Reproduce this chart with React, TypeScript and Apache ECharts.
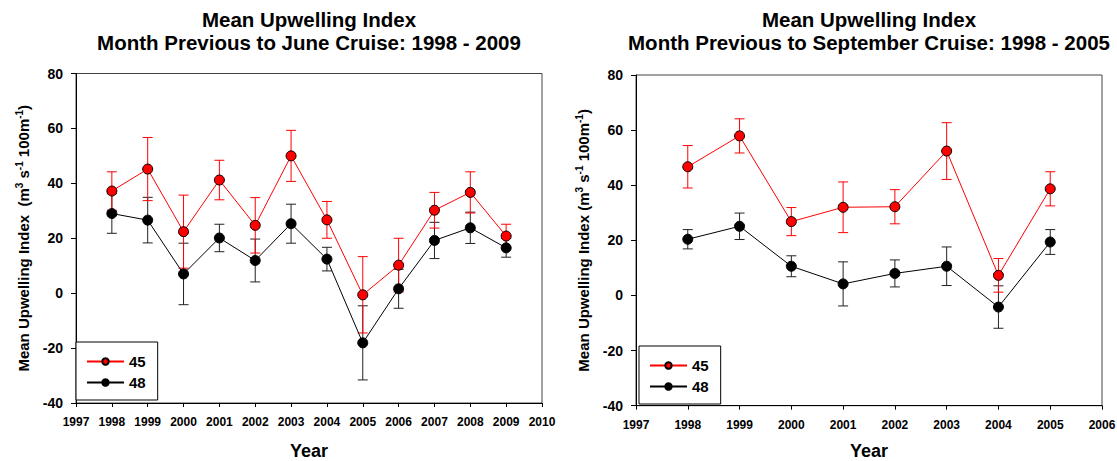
import React, { useEffect, useRef } from "react";
import * as echarts from "echarts";

const FONT = '"Liberation Sans", Arial, Helvetica, sans-serif';

const juneYears = [1998, 1999, 2000, 2001, 2002, 2003, 2004, 2005, 2006, 2007, 2008, 2009];
const june45 = [37.2, 45.2, 22.4, 41.2, 24.7, 50.0, 26.7, -0.6, 10.2, 30.2, 36.7, 20.8];
const june45Err = [7.0, 11.5, 13.3, 7.2, 10.1, 9.3, 6.7, 13.9, 9.8, 6.5, 7.5, 4.3];
const june48 = [29.0, 26.6, 7.0, 20.1, 11.9, 25.3, 12.4, -18.1, 1.6, 19.2, 23.8, 16.5];
const june48Err = [7.2, 8.3, 11.2, 5.0, 7.8, 7.1, 4.3, 13.5, 7.1, 6.6, 5.7, 3.4];

const sepYears = [1998, 1999, 2000, 2001, 2002, 2003, 2004, 2005];
const sep45 = [46.7, 57.9, 26.8, 32.0, 32.2, 52.4, 7.3, 38.7];
const sep45Err = [7.7, 6.2, 5.1, 9.2, 6.2, 10.3, 6.1, 6.2];
const sep48 = [20.4, 25.1, 10.6, 4.2, 8.0, 10.6, -4.2, 19.4];
const sep48Err = [3.5, 4.8, 3.8, 8.0, 4.9, 7.0, 7.7, 4.5];

const yTicks = { min: -40, max: 80, interval: 20 };
const juneX = { min: 1997, max: 2010, interval: 1 };
const sepX = { min: 1997, max: 2006, interval: 1 };

const titleJune = "Mean Upwelling Index\nMonth Previous to June Cruise: 1998 - 2009";
const titleSep = "Mean Upwelling Index\nMonth Previous to September Cruise: 1998 - 2005";

const RED = "#ff0000";
const BLACK = "#000000";

function errData(xs: number[], v: number[], e: number[]) {
  return xs.map((x, i) => [x, v[i] - e[i], v[i] + e[i]]);
}

function errSeries(name: string, idx: number, data: number[][], color: string) {
  return {
    type: "custom",
    name,
    xAxisIndex: idx,
    yAxisIndex: idx,
    z: 1,
    encode: { x: 0, y: [1, 2] },
    data,
    renderItem: (params: any, api: any) => {
      const x = api.value(0);
      const lo = api.coord([x, api.value(1)]);
      const hi = api.coord([x, api.value(2)]);
      const w = 5;
      const st = { stroke: color, lineWidth: 1 };
      return {
        type: "group",
        children: [
          { type: "line", shape: { x1: lo[0], y1: lo[1], x2: hi[0], y2: hi[1] }, style: st },
          { type: "line", shape: { x1: hi[0] - w, y1: hi[1], x2: hi[0] + w, y2: hi[1] }, style: st },
          { type: "line", shape: { x1: lo[0] - w, y1: lo[1], x2: lo[0] + w, y2: lo[1] }, style: st },
        ],
      };
    },
  };
}

function lineSeries(name: string, idx: number, xs: number[], v: number[], color: string) {
  return {
    type: "line",
    name,
    xAxisIndex: idx,
    yAxisIndex: idx,
    z: 3,
    data: xs.map((x, i) => [x, v[i]]),
    symbol: "circle",
    symbolSize: 10,
    itemStyle: { color, borderColor: "#000", borderWidth: 1 },
    lineStyle: { color, width: 1 },
  };
}

function xAxis(idx: number, r: { min: number; max: number; interval: number }, nameGap: number) {
  return {
    type: "value",
    gridIndex: idx,
    min: r.min,
    max: r.max,
    interval: r.interval,
    name: "Year",
    nameLocation: "middle",
    nameGap,
    nameTextStyle: { fontFamily: FONT, fontWeight: "bold", fontSize: 18, color: "#000", lineHeight: 18 },
    axisLine: { show: true, onZero: false, lineStyle: { color: "#000", width: 1 } },
    axisTick: { show: true, length: 4, lineStyle: { color: "#000" } },
    axisLabel: {
      margin: 13,
      fontFamily: FONT,
      fontWeight: "bold",
      fontSize: 12,
      color: "#000",
      formatter: (v: number) => String(v),
    },
    splitLine: { show: false },
  };
}

function yAxis(idx: number, gap: string) {
  return {
    type: "value",
    gridIndex: idx,
    min: yTicks.min,
    max: yTicks.max,
    interval: yTicks.interval,
    name: `{a|Mean Upwelling Index${gap}(m}{s|3}{a| s}{s|-1}{a| 100m}{s|-1}{a|)}`,
    nameLocation: "middle",
    nameGap: 44,
    nameTextStyle: {
      rich: {
        a: { fontFamily: FONT, fontWeight: "bold", fontSize: 15, color: "#000", lineHeight: 18 },
        s: { fontFamily: FONT, fontWeight: "bold", fontSize: 10, color: "#000", verticalAlign: "top" },
      },
    },
    axisLine: { show: true, onZero: false, lineStyle: { color: "#000", width: 1 } },
    axisTick: { show: true, length: 5, lineStyle: { color: "#000" } },
    axisLabel: { margin: 13, fontFamily: FONT, fontWeight: "bold", fontSize: 14, color: "#000" },
    splitLine: { show: false },
  };
}

function legend(left: number, top: number) {
  return {
    orient: "vertical",
    left,
    top,
    data: ["45", "48"],
    backgroundColor: "#fff",
    borderColor: "#000",
    borderWidth: 1,
    padding: [12, 12, 10, 10],
    itemGap: 6,
    itemWidth: 37,
    itemHeight: 8,
    selectedMode: false,
    textStyle: { fontFamily: FONT, fontWeight: "bold", fontSize: 15, color: "#000", lineHeight: 14 },
  };
}

function titleText(x: number, text: string) {
  return {
    type: "text",
    x,
    y: 8,
    style: {
      text,
      align: "center",
      verticalAlign: "top",
      textAlign: "center",
      textVerticalAlign: "top",
      fontFamily: FONT,
      fontWeight: "bold",
      fontSize: 20.5,
      lineHeight: 23,
      fill: "#000",
    },
  };
}

export default function App() {
  const ref = useRef<HTMLDivElement>(null);
  useEffect(() => {
    document.body.style.margin = "0";
    const chart = echarts.init(ref.current!, undefined, { renderer: "svg" });
    chart.setOption({
      animation: false,
      backgroundColor: "#fff",
      grid: [
        {
          left: 76, top: 73.5, width: 466, height: 329.5,
          outerBoundsMode: "none", containLabel: false,
          show: true, borderColor: "#444", borderWidth: 1,
        },
        {
          left: 636, top: 75, width: 466, height: 330.7,
          outerBoundsMode: "none", containLabel: false,
          show: true, borderColor: "#444", borderWidth: 1,
        },
      ],
      xAxis: [xAxis(0, juneX, 39), xAxis(1, sepX, 36.5)],
      yAxis: [yAxis(0, "  "), yAxis(1, " ")],
      legend: [legend(76, 342), legend(639, 346)],
      graphic: [titleText(309, titleJune), titleText(869, titleSep)],
      series: [
        errSeries("e48a", 0, errData(juneYears, june48, june48Err), "#222"),
        errSeries("e45a", 0, errData(juneYears, june45, june45Err), RED),
        lineSeries("48", 0, juneYears, june48, BLACK),
        lineSeries("45", 0, juneYears, june45, RED),
        errSeries("e48b", 1, errData(sepYears, sep48, sep48Err), "#222"),
        errSeries("e45b", 1, errData(sepYears, sep45, sep45Err), RED),
        lineSeries("48", 1, sepYears, sep48, BLACK),
        lineSeries("45", 1, sepYears, sep45, RED),
      ],
    });
    return () => chart.dispose();
  }, []);
  return <div ref={ref} style={{ width: 1117, height: 461 }} />;
}
